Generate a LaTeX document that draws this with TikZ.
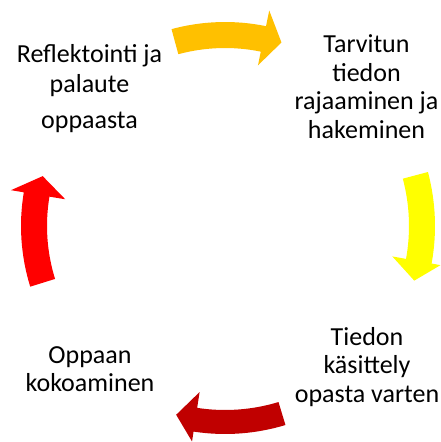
\documentclass[tikz,border=0pt]{standalone}
\usepackage{fontspec}
\setmainfont{Carlito}
\definecolor{gold}{HTML}{FFC000}
\definecolor{lemon}{HTML}{FFFF00}
\definecolor{darkred}{HTML}{C00000}
\definecolor{brightred}{HTML}{FF0000}
\tikzset{stage/.style={align=center, inner sep=0pt, anchor=base, font=\fontsize{26}{28.5}\selectfont}}

\begin{document}
\begin{tikzpicture}[x=1pt,y=1pt]
\useasboundingbox (0,0) rectangle (440,442);
\begin{scope}[shift={(225,216)}]
% top arrow
\fill[gold] (105.2:204) arc[start angle=105.2, end angle=78.4, radius=204] -- (78.4:220) -- (72.9:192) -- (78.4:164) -- (78.4:178) arc[start angle=78.4, end angle=105.2, radius=178] -- cycle;
% right arrow
\fill[lemon] (14.9:210) arc[start angle=14.9, end angle=-10.3, radius=210] -- (-10.3:219) -- (-16.1:197) -- (-10.3:170) -- (-10.3:184) arc[start angle=-10.3, end angle=14.9, radius=184] -- cycle;
% bottom arrow
\fill[darkred] (-73.1:208) arc[start angle=-73.1, end angle=-98.7, radius=208] -- (-98.7:218) -- (-104.5:195) -- (-98.7:168) -- (-98.7:184) arc[start angle=-98.7, end angle=-73.1, radius=184] -- cycle;
% left arrow
\fill[brightred] (197.3:178) arc[start angle=197.3, end angle=170.5, radius=178] -- (170.5:162) -- (164.7:189) -- (170.5:217) -- (170.5:204) arc[start angle=170.5, end angle=197.3, radius=204] -- cycle;
\end{scope}
\node[stage] (reflect) at (89.5,313) {Reflektointi ja\\[1.5pt]palaute\\[7.5pt]oppaasta};
\node[stage] (search) at (366.5,303.7) {Tarvitun\\tiedon\\rajaaminen ja\\hakeminen};
\node[stage] (process) at (367,39.7) {Tiedon\\käsittely\\opasta varten};
\node[stage] (compile) at (90,50.3) {Oppaan\\kokoaminen};
\end{tikzpicture}
\end{document}
